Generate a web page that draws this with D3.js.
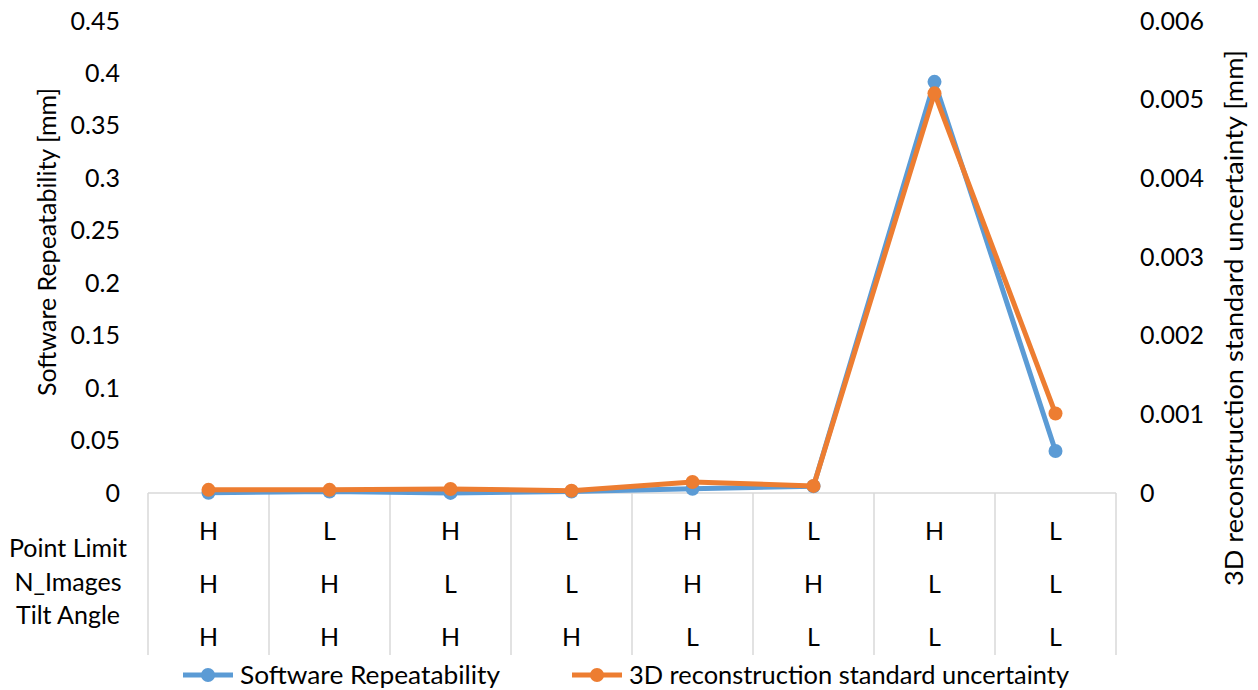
<!DOCTYPE html>
<html>
<head>
<meta charset="utf-8">
<script src="https://cdn.jsdelivr.net/npm/d3@7/dist/d3.min.js"></script>
<style>
  html, body { margin: 0; padding: 0; background: #fff; }
  svg { display: block; font-family: Lato, "Open Sans", sans-serif; }
</style>
</head>
<body>
<svg id="chart" width="1258" height="690"></svg>
<script>
// Factor levels for each run (8 runs)
const pointLimit = ["H", "L", "H", "L", "H", "L", "H", "L"];
const nImages    = ["H", "H", "L", "L", "H", "H", "L", "L"];
const tiltAngle  = ["H", "H", "H", "H", "L", "L", "L", "L"];
const factorNames = ["Point Limit", "N_Images", "Tilt Angle"];

// Series values
const softwareRepeatability = [0.0002, 0.0015, 0.0001, 0.0015, 0.004, 0.0065, 0.392, 0.040];
const reconstructionUncertainty = [0.00004, 0.00004, 0.00005, 0.00003, 0.00014, 0.00009, 0.00508, 0.00101];

// Tick labels
const leftTicks  = [0, 0.05, 0.1, 0.15, 0.2, 0.25, 0.3, 0.35, 0.4, 0.45];
const rightTicks = [0, 0.001, 0.002, 0.003, 0.004, 0.005, 0.006];

const svg = d3.select("#chart");
const plot = { left: 148, right: 1116, top: 21, bottom: 493 };
const tableBottom = 655;
const blue = "#5B9BD5", orange = "#ED7D31", grid = "#D9D9D9";
const fontSize = 25;

const runs = d3.range(softwareRepeatability.length);
const x = d3.scaleBand().domain(runs).range([plot.left, plot.right]).padding(0);
const yL = d3.scaleLinear().domain([0, 0.45]).range([plot.bottom, plot.top]);
const yR = d3.scaleLinear().domain([0, 0.006]).range([plot.bottom, plot.top]);

// Table grid under the plot
const boundaries = runs.map(i => x(i)).concat([plot.right]);
svg.append("g").selectAll("line").data(boundaries).join("line")
  .attr("x1", d => d).attr("x2", d => d)
  .attr("y1", plot.bottom).attr("y2", tableBottom)
  .attr("stroke", grid).attr("stroke-width", 1.5);
svg.append("line")
  .attr("x1", plot.left).attr("x2", plot.right)
  .attr("y1", plot.bottom).attr("y2", plot.bottom)
  .attr("stroke", grid).attr("stroke-width", 1.5);

// Factor level rows
const rowsY = [531, 584, 637];
[pointLimit, nImages, tiltAngle].forEach((levels, r) => {
  svg.append("g").selectAll("text").data(levels).join("text")
    .attr("x", (d, i) => x(i) + x.bandwidth() / 2)
    .attr("y", rowsY[r])
    .attr("dy", "0.35em")
    .attr("text-anchor", "middle")
    .attr("font-size", fontSize)
    .attr("fill", "#000")
    .text(d => d);
});
const nameY = [548, 582, 615];
svg.append("g").selectAll("text").data(factorNames).join("text")
  .attr("x", 68).attr("y", (d, i) => nameY[i])
  .attr("dy", "0.35em")
  .attr("text-anchor", "middle")
  .attr("font-size", fontSize)
  .attr("fill", "#000")
  .text(d => d);

// Left axis
const axL = svg.append("g").attr("transform", `translate(${plot.left - 28},0)`)
  .call(d3.axisLeft(yL).tickValues(leftTicks).tickSize(0).tickPadding(0).tickFormat(d => d3.format("")(+d.toFixed(2))));
axL.select(".domain").remove();
axL.selectAll("text").attr("font-size", fontSize).attr("font-family", "Lato, sans-serif").attr("fill", "#000");

// Right axis
const axR = svg.append("g").attr("transform", `translate(${plot.right + 24},0)`)
  .call(d3.axisRight(yR).tickValues(rightTicks).tickSize(0).tickPadding(0).tickFormat(d => d3.format("")(+d.toFixed(3))));
axR.select(".domain").remove();
axR.selectAll("text").attr("font-size", fontSize).attr("font-family", "Lato, sans-serif").attr("fill", "#000");

// Axis titles
svg.append("text")
  .attr("transform", `translate(47,242) rotate(-90)`)
  .attr("text-anchor", "middle").attr("dy", "0.35em")
  .attr("font-size", fontSize).attr("fill", "#000")
  .text("Software Repeatability [mm]");
svg.append("text")
  .attr("transform", `translate(1234,318) rotate(-90)`)
  .attr("text-anchor", "middle").attr("dy", "0.35em")
  .attr("font-size", fontSize).attr("fill", "#000")
  .attr("textLength", 536).attr("lengthAdjust", "spacingAndGlyphs")
  .text("3D reconstruction standard uncertainty [mm]");

// Series
const cx = i => x(i) + x.bandwidth() / 2;
function drawSeries(values, yScale, color) {
  const line = d3.line().x((d, i) => cx(i)).y(d => yScale(d));
  svg.append("path").datum(values)
    .attr("d", line).attr("fill", "none")
    .attr("stroke", color).attr("stroke-width", 5)
    .attr("stroke-linejoin", "round");
  svg.append("g").selectAll("circle").data(values).join("circle")
    .attr("cx", (d, i) => cx(i)).attr("cy", d => yScale(d))
    .attr("r", 7).attr("fill", color);
}
drawSeries(softwareRepeatability, yL, blue);
drawSeries(reconstructionUncertainty, yR, orange);

// Legend
const legend = [
  { name: "Software Repeatability", color: blue, x: 183, width: 260 },
  { name: "3D reconstruction standard uncertainty", color: orange, x: 572, width: 440 }
];
const legY = 675;
legend.forEach(l => {
  const g = svg.append("g");
  g.append("line").attr("x1", l.x).attr("x2", l.x + 50)
    .attr("y1", legY).attr("y2", legY)
    .attr("stroke", l.color).attr("stroke-width", 5);
  g.append("circle").attr("cx", l.x + 25).attr("cy", legY).attr("r", 7).attr("fill", l.color);
  g.append("text").attr("x", l.x + 57).attr("y", legY).attr("dy", "0.35em")
    .attr("font-size", fontSize).attr("fill", "#000")
    .attr("textLength", l.width).attr("lengthAdjust", "spacingAndGlyphs")
    .text(l.name);
});
</script>
</body>
</html>
